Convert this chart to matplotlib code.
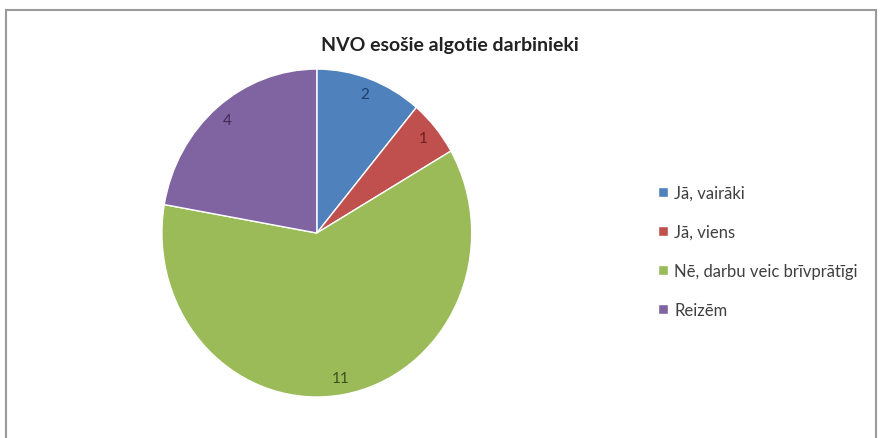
import matplotlib
matplotlib.use("Agg")
import matplotlib.pyplot as plt
from matplotlib.patches import Rectangle

plt.rcParams['font.family'] = ['Lato', 'DejaVu Sans']

# data
categories = ["Jā, vairāki", "Jā, viens", "Nē, darbu veic brīvprātīgi", "Reizēm"]
values = [2, 1, 11, 4]
colors = ["#4F81BD", "#C0504D", "#9BBB59", "#8064A2"]
label_colors = ["#1F3F6E", "#6E1E1C", "#3F5020", "#3A2B55"]
title = "NVO esošie algotie darbinieki"

fig = plt.figure(figsize=(8.8, 4.39), dpi=100)

# chart frame
fig.patches.append(Rectangle((6 / 880, -0.1), 870 / 880, 1.075,
                             transform=fig.transFigure, fill=False,
                             edgecolor="#9a9a9a", linewidth=1.5))

ax = fig.add_axes([0.184, 0.0934, 0.352, 0.747])
wedges, texts = ax.pie(values, labels=[str(v) for v in values], colors=colors,
                       startangle=90, counterclock=False, labeldistance=0.9,
                       wedgeprops=dict(edgecolor="white", linewidth=1),
                       textprops=dict(fontsize=11))
for t, c in zip(texts, label_colors):
    t.set_color(c)
    t.set_horizontalalignment("center")
ax.set_aspect("auto")
ax.set_xlim(-1, 1)
ax.set_ylim(-1, 1)

fig.text(0.511, 0.897, title, ha="center", va="center",
         fontsize=14, fontweight="bold", color="#222222")

fig.legend(wedges, categories, loc="center left",
           bbox_to_anchor=(0.731, 0.425), frameon=False,
           fontsize=12, handlelength=0.6, handleheight=0.6,
           handletextpad=0.35, labelspacing=1.38, labelcolor="#404040")

fig.savefig("out.png", dpi=100)
